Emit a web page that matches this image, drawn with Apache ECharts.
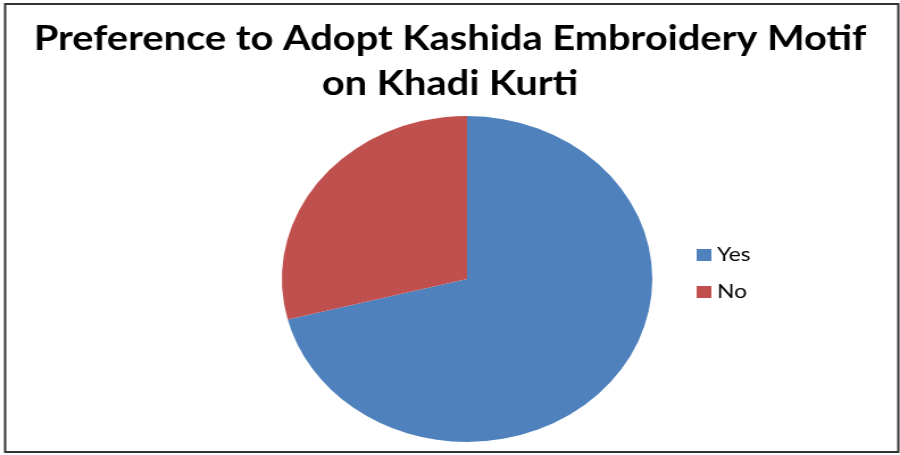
<!DOCTYPE html>
<html>
<head>
<meta charset="utf-8">
<script src="https://cdn.jsdelivr.net/npm/echarts@6/dist/echarts.min.js"></script>
<style>
  html, body { margin: 0; padding: 0; background: #fff; overflow: hidden; }
  /* the reference picture is stretched sideways, so the chart is too */
  #chart { width: 792px; height: 455px; transform: scaleX(1.1364); transform-origin: 0 0; }
</style>
</head>
<body>
<div id="chart"></div>
<script>
const titleText = 'Preference to Adopt Kashida Embroidery Motif\non Khadi Kurti'
const categories = ['Yes', 'No']
const values = [71, 29]
const colors = ['#4F81BD', '#C0504D']

const myChart = echarts.init(document.getElementById('chart'))

const option = {
  animation: false,
  color: colors,
  title: {
    text: titleText,
    left: 'center',
    top: 11,
    textStyle: {
      fontFamily: 'Lato',
      fontWeight: 'bold',
      fontSize: 35,
      lineHeight: 45,
      color: '#000',
    },
  },
  legend: {
    orient: 'vertical',
    left: 608,
    top: 240,
    itemWidth: 13,
    itemHeight: 12,
    itemGap: 17,
    icon: 'rect',
    textStyle: {
      fontFamily: 'Lato',
      fontSize: 20,
      color: '#000',
    },
    data: categories,
  },
  graphic: [
    {
      type: 'rect',
      shape: { x: 4.5, y: 4, width: 786, height: 448 },
      style: { fill: 'none', stroke: '#333', lineWidth: 2 },
      silent: true,
    },
  ],
  series: [
    {
      type: 'pie',
      center: [411, 279],
      radius: 163,
      startAngle: 90,
      clockwise: true,
      label: { show: false },
      labelLine: { show: false },
      emphasis: { disabled: true },
      data: categories.map((name, i) => ({ name, value: values[i] })),
    },
  ],
}

myChart.setOption(option)
</script>
</body>
</html>
